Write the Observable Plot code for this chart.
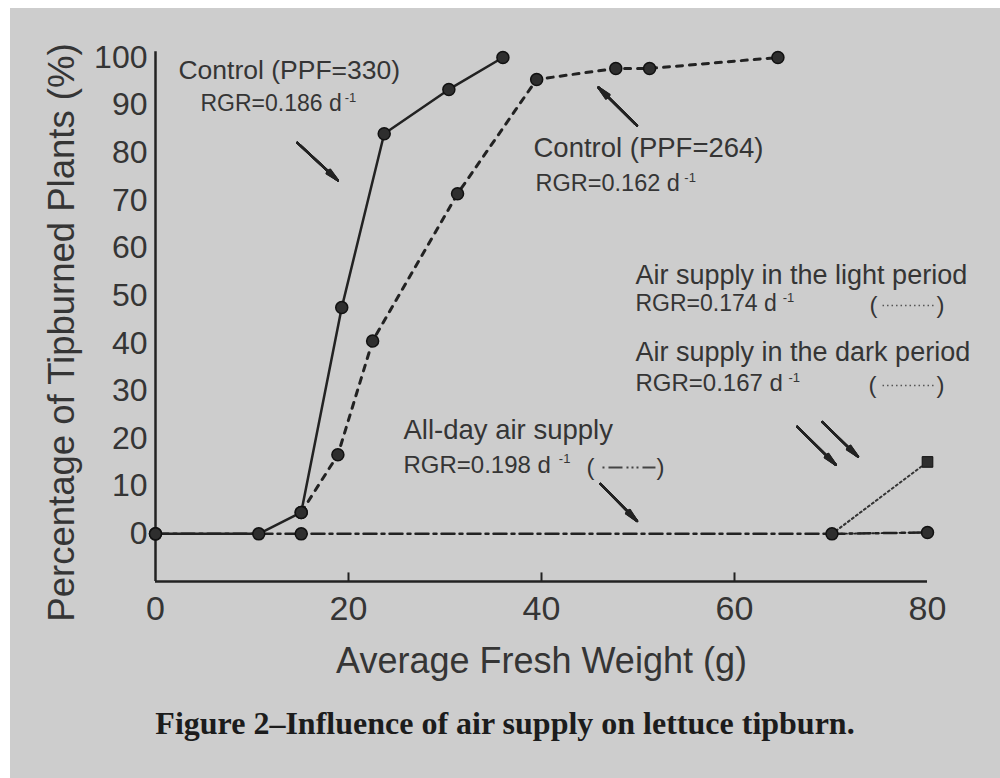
<!DOCTYPE html>
<html><head><meta charset="utf-8">
<script src="https://cdn.jsdelivr.net/npm/d3@7"></script>
<script src="https://cdn.jsdelivr.net/npm/@observablehq/plot@0.6"></script>
<style>
html,body{margin:0;padding:0;background:#ffffff;width:1000px;height:778px;overflow:hidden;}
#page{position:absolute;left:10px;top:8px;width:990px;height:770px;background:#cdcdcd;}
#chart{position:absolute;left:0;top:0;}
#caption{position:absolute;left:0;width:990px;top:697px;text-align:center;font:bold 32px "Liberation Serif","Times New Roman",serif;color:#1c1c1c;}
</style></head>
<body>
<div id="page"><div id="chart"></div><div id="caption">Figure 2–Influence of air supply on lettuce tipburn.</div></div>
<script>
// ---- data ----
const ctrl330X = [0, 10.7, 15.1, 19.3, 23.7, 30.4, 36.0];
const ctrl330Y = [0, 0, 4.5, 47.5, 84.0, 93.3, 100];
const ctrl264X = [15.1, 18.9, 22.5, 31.3, 39.5, 47.7, 51.2, 64.5];
const ctrl264Y = [4.5, 16.6, 40.5, 71.4, 95.4, 97.7, 97.7, 100];
const allDayX = [0, 15.1, 70.1, 80];
const allDayY = [0, 0, 0, 0.3];
const lightX = [70.1, 80];
const lightY = [0, 15.1];
const darkX = [70.1, 80];
const darkY = [0, 0.3];

const xTicks = [0, 20, 40, 60, 80];
const yTicks = [0, 10, 20, 30, 40, 50, 60, 70, 80, 90, 100];
const xMinorTicks = [20, 40, 60];

const annoText = ["Control (PPF=330)", "RGR=0.186 d", "Control (PPF=264)", "RGR=0.162 d",
  "Air supply in the light period", "RGR=0.174 d", "Air supply in the dark period", "RGR=0.167 d",
  "All-day air supply", "RGR=0.198 d"];
const annoX = [2.38, 4.66, 39.17, 39.38, 49.74, 49.74, 49.74, 49.74, 25.7, 25.7];
const annoY = [97.27, 90.34, 80.9, 73.55, 54.24, 48.36, 38.07, 31.56, 21.7, 14.35];
const annoSize = [26.5, 23, 27.5, 23.5, 27, 23, 27, 24, 27.5, 24];
const supX = [19.6, 54.8, 65.0, 65.6, 41.8];
const supY = [91.6, 74.8, 49.6, 32.8, 15.8];

const arrowX1 = [14.7, 49.9, 46.1, 66.5, 69.1];
const arrowY1 = [82.1, 85.7, 10.5, 22.5, 23.5];
const arrowX2 = [18.9, 45.9, 49.9, 70.5, 72.8];
const arrowY2 = [74.2, 93.7, 2.7, 14.5, 16.2];

const keyName = ["light", "dark", "allday"];
const keyOpen = [74.4, 74.3, 45.08];
const keyClose = [81.35, 81.35, 52.33];
const keyX1 = [75.34, 75.34, 46.32];
const keyX2 = [80.83, 80.83, 51.81];
const keyY = [47.94, 31.15, 13.93];

// ---- build tables ----
const zip = (xs, ys) => xs.map((x, i) => ({x, y: ys[i]}));
const d330 = zip(ctrl330X, ctrl330Y);
const d264 = zip(ctrl264X, ctrl264Y);
const dAll = zip(allDayX, allDayY);
const dLight = zip(lightX, lightY);
const dDark = zip(darkX, darkY);
const annos = annoText.map((t, i) => ({t, x: annoX[i], y: annoY[i], s: annoSize[i]}));
const sups = supX.map((x, i) => ({x, y: supY[i]}));
const arrows = arrowX1.map((x1, i) => ({x1, y1: arrowY1[i], x2: arrowX2[i], y2: arrowY2[i]}));
const keys = keyName.map((n, i) => ({n, o: keyOpen[i], c: keyClose[i], x1: keyX1[i], x2: keyX2[i], y: keyY[i]}));

const INK = "#222";
const TXT = "#353535";
const FONT = '"Liberation Sans", Arial, sans-serif';

const arrowLayers = [
  Plot.arrow(arrows, {x1: "x1", y1: "y1", x2: "x2", y2: "y2", stroke: "#3a3a3a", strokeWidth: 1.5, headLength: 0}),
  ...[2, 5, 8, 11, 14, 17, 20, 23].map(a =>
    Plot.arrow(arrows, {x1: "x1", y1: "y1", x2: "x2", y2: "y2", stroke: "#222", strokeWidth: 2.2, headAngle: a, headLength: 9}))
];

const chart = Plot.plot({
  width: 990, height: 690,
  marginLeft: 145, marginRight: 73, marginTop: 49, marginBottom: 117,
  x: {domain: [0, 80], axis: null},
  y: {domain: [-10, 100], axis: null},
  style: {background: "transparent", fontFamily: FONT},
  marks: [
    // axes
    Plot.ruleX([0], {y1: -10, y2: 101.2, stroke: INK, strokeWidth: 2.5}),
    Plot.ruleY([-10], {x1: 0, x2: 80, stroke: INK, strokeWidth: 2.5}),
    Plot.ruleX(xMinorTicks, {y1: -10, y2: -8.2, stroke: INK, strokeWidth: 2}),
    Plot.text(yTicks, {x: 0, y: d => d, text: d => String(d), textAnchor: "end", dx: -8, fontSize: 32, fill: TXT}),
    Plot.text(xTicks, {x: d => d, y: -10, text: d => String(d), dy: 28, fontSize: 34, fill: TXT}),
    Plot.text(["Average Fresh Weight (g)"], {frameAnchor: "bottom", textAnchor: "middle", lineAnchor: "middle", dy: 80, fontSize: 36, fill: TXT}),
    Plot.text(["Percentage of Tipburned Plants (%)"], {frameAnchor: "left", textAnchor: "middle", lineAnchor: "middle", rotate: -90, dx: -93, dy: 13, fontSize: 36.5, fill: TXT}),
    // series
    Plot.line(dDark, {x: "x", y: "y", stroke: INK, strokeWidth: 1.8, strokeDasharray: "1.5,3"}),
    Plot.line(dAll, {x: "x", y: "y", stroke: INK, strokeWidth: 2.5, strokeDasharray: "13,5,3,5"}),
    Plot.line(dLight, {x: "x", y: "y", stroke: "#333", strokeWidth: 2, strokeDasharray: "2,3"}),
    Plot.line(d264, {x: "x", y: "y", stroke: INK, strokeWidth: 3, strokeDasharray: "6,7"}),
    Plot.line(d330, {x: "x", y: "y", stroke: INK, strokeWidth: 2.5}),
    Plot.dot(dAll, {x: "x", y: "y", r: 6, fill: "#2e2e2e", stroke: "#111", strokeWidth: 1.5}),
    Plot.dot(d264, {x: "x", y: "y", r: 6, fill: "#2e2e2e", stroke: "#111", strokeWidth: 1.5}),
    Plot.dot(d330, {x: "x", y: "y", r: 6, fill: "#2e2e2e", stroke: "#111", strokeWidth: 1.5}),
    Plot.dot(dLight.slice(1), {x: "x", y: "y", r: 6, symbol: "square", fill: "#2e2e2e", stroke: "#111", strokeWidth: 1}),
    // annotations
    Plot.text(annos, {x: "x", y: "y", text: "t", fontSize: "s", textAnchor: "start", fill: TXT}),
    Plot.text(sups, {x: "x", y: "y", text: () => "-1", fontSize: 13, textAnchor: "start", fill: TXT}),
    Plot.text(keys, {x: "o", y: "y", text: () => "(", fontSize: 24, fill: TXT}),
    Plot.text(keys, {x: "c", y: "y", text: () => ")", fontSize: 24, fill: TXT}),
    Plot.link(keys.filter(k => k.n !== "allday"), {x1: "x1", x2: "x2", y1: "y", y2: "y", stroke: "#555", strokeWidth: 1.5, strokeDasharray: "1.5,3"}),
    Plot.link(keys.filter(k => k.n === "allday"), {x1: "x1", x2: "x2", y1: "y", y2: "y", stroke: "#444", strokeWidth: 2, strokeDasharray: "2,4,14,4,2,3,2,3"}),
    ...arrowLayers
  ]
});
document.getElementById("chart").appendChild(chart);
</script>
</body></html>
